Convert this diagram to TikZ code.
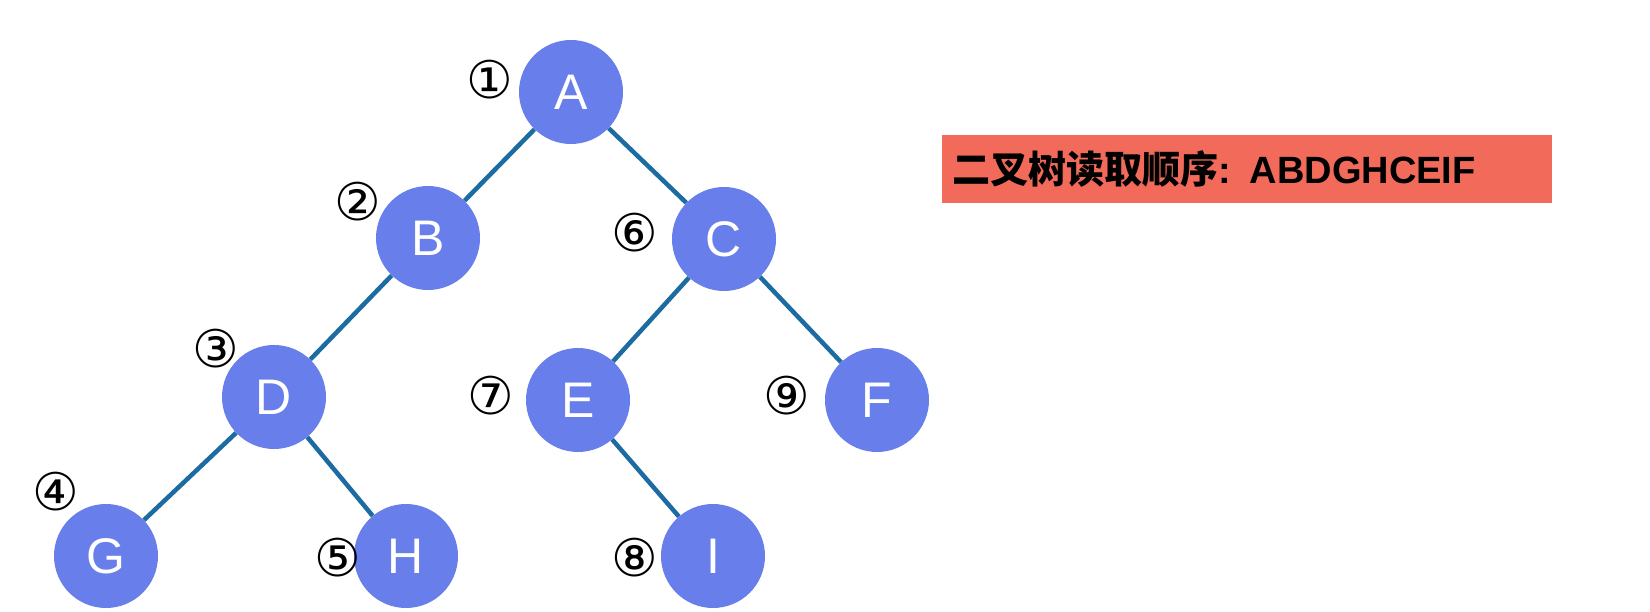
\documentclass[tikz,border=0pt]{standalone}
\usepackage{fontspec}
\setmainfont{Liberation Sans}
\newfontfamily\cjkfont{Noto Sans CJK SC}
\newfontfamily\circfont{DejaVu Sans}
\definecolor{nodeblue}{RGB}{104,126,234}
\definecolor{edgeblue}{RGB}{28,108,162}
\definecolor{bannerred}{RGB}{241,106,90}

\begin{document}
\begin{tikzpicture}[x=1pt,y=-1pt,vertex/.style={circle,fill=nodeblue,minimum size=104pt,inner sep=0pt,text=white,font=\fontsize{50}{50}\selectfont},edge/.style={edgeblue,line width=4.5pt},order/.style={font=\circfont\fontsize{52}{52}\selectfont,inner sep=0pt},banner/.style={fill=bannerred,anchor=west,minimum height=68pt,text width=590pt,inner xsep=10pt,align=left,font=\bfseries\fontsize{38}{38}\selectfont}]
\useasboundingbox[fill=white] (0,0) rectangle (1650,612);
% tree nodes
\node[vertex] (A) at (571,92) {A};\node[vertex] (B) at (428,238) {B};\node[vertex] (C) at (724,239) {C};
\node[vertex] (D) at (274,397) {D};\node[vertex] (E) at (578,400) {E};\node[vertex] (F) at (877,400) {F};
\node[vertex] (G) at (106,556) {G};\node[vertex] (H) at (406,556) {H};\node[vertex] (I) at (713,556) {I};
\draw[edge] (A)--(B);\draw[edge] (A)--(C);\draw[edge] (B)--(D);\draw[edge] (D)--(G);\draw[edge] (D)--(H);\draw[edge] (C)--(E);\draw[edge] (C)--(F);\draw[edge] (E)--(I);
% visiting order
\node[order] (n1) at (490,80) {①};\node[order] (n2) at (358,202) {②};\node[order] (n3) at (216,349) {③};
\node[order] (n4) at (56,492) {④};\node[order] (n5) at (338,558) {⑤};\node[order] (n6) at (635,233) {⑥};
\node[order] (n7) at (491,396) {⑦};\node[order] (n8) at (635,558) {⑧};\node[order] (n9) at (787,396) {⑨};
\node[banner] (seq) at (942,169) {{\cjkfont\bfseries 二叉树读取顺序}: ABDGHCEIF};
\end{tikzpicture}
\end{document}
